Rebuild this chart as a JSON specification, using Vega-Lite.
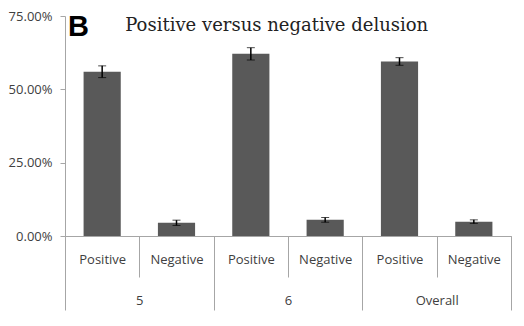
{
  "$schema": "https://vega.github.io/schema/vega-lite/v6.json",
  "background": "white",
  "padding": {"left": 5, "top": 10, "right": 5, "bottom": 5},
  "title": {
    "text": "B",
    "subtitle": "\u200b\u00a0\u00a0\u00a0\u00a0\u00a0\u00a0\u00a0\u00a0\u00a0\u00a0Positive versus negative delusion",
    "anchor": "start",
    "frame": "group",
    "font": "Liberation Sans",
    "fontSize": 29,
    "fontWeight": "bold",
    "color": "#000000",
    "subtitleFont": "DejaVu Serif",
    "subtitleFontSize": 18,
    "subtitleColor": "#222222",
    "subtitlePadding": -25,
    "offset": -32,
    "dx": 3
  },
  "data": {
    "values": [
      {"key": "5_Positive", "group": "5", "type": "Positive", "value": 0.56, "err": 0.02},
      {"key": "5_Negative", "group": "5", "type": "Negative", "value": 0.045, "err": 0.009},
      {"key": "6_Positive", "group": "6", "type": "Positive", "value": 0.621, "err": 0.021},
      {"key": "6_Negative", "group": "6", "type": "Negative", "value": 0.055, "err": 0.008},
      {"key": "Overall_Positive", "group": "Overall", "type": "Positive", "value": 0.595, "err": 0.013},
      {"key": "Overall_Negative", "group": "Overall", "type": "Negative", "value": 0.049, "err": 0.006}
    ]
  },
  "width": 446,
  "height": 220,
  "layer": [
    {
      "mark": {"type": "bar", "color": "#595959", "width": {"band": 0.5}},
      "encoding": {
        "x": {
          "field": "key",
          "type": "nominal",
          "sort": null,
          "scale": {"paddingInner": 0, "paddingOuter": 0},
          "axis": {
            "orient": "bottom",
            "title": null,
            "labelAngle": 0,
            "labelExpr": "split(datum.label, '_')[1]",
            "labelFont": "Open Sans",
            "labelFontSize": 13,
            "labelColor": "#404040",
            "labelPadding": -24,
            "domainColor": "#a6a6a6",
            "tickColor": "#a6a6a6",
            "tickBand": "extent",
            "tickSize": 41
          }
        },
        "y": {
          "field": "value",
          "type": "quantitative",
          "scale": {"domain": [0, 0.75], "nice": false},
          "axis": {
            "title": null,
            "values": [0, 0.25, 0.5, 0.75],
            "format": ".2%",
            "grid": false,
            "labelFont": "Open Sans",
            "labelFontSize": 13,
            "labelColor": "#404040",
            "labelPadding": 8,
            "tickSize": 5,
            "domainColor": "#a6a6a6",
            "tickColor": "#a6a6a6",
            "minExtent": 60,
            "maxExtent": 60
          }
        }
      }
    },
    {
      "mark": {"type": "errorbar", "color": "#000000", "ticks": {"size": 8, "color": "#000000"}, "rule": {"strokeWidth": 1.5}},
      "encoding": {
        "x": {"field": "key", "type": "nominal", "sort": null, "scale": {"paddingInner": 0, "paddingOuter": 0}, "axis": null},
        "y": {"field": "value", "type": "quantitative"},
        "yError": {"field": "err"}
      }
    },
    {
      "mark": {"type": "bar", "opacity": 0},
      "encoding": {
        "x": {
          "field": "group",
          "type": "nominal",
          "sort": null,
          "scale": {"paddingInner": 0, "paddingOuter": 0},
          "axis": {
            "orient": "bottom",
            "title": null,
            "labelAngle": 0,
            "labelFont": "Open Sans",
            "labelFontSize": 13,
            "labelColor": "#404040",
            "labelPadding": -16,
            "domainColor": "#a6a6a6",
            "tickColor": "#a6a6a6",
            "tickBand": "extent",
            "tickSize": 74
          }
        },
        "y": {"field": "value", "type": "quantitative"}
      }
    }
  ],
  "resolve": {"scale": {"x": "independent"}, "axis": {"x": "independent"}},
  "config": {
    "view": {"stroke": null}
  }
}
